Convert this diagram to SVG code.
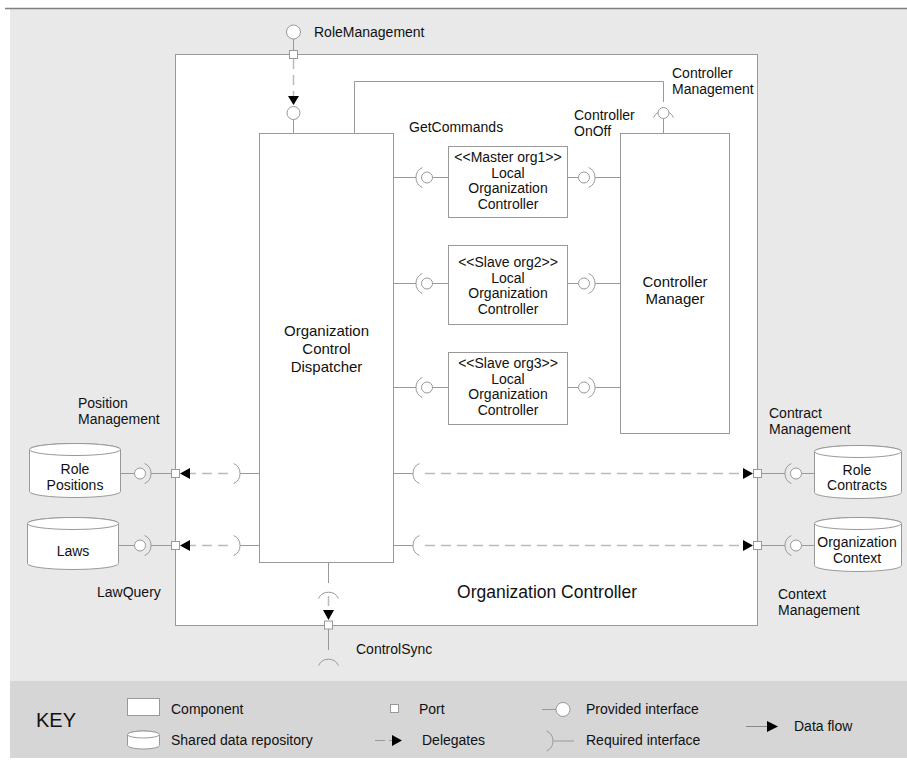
<svg xmlns="http://www.w3.org/2000/svg" width="907" height="760" viewBox="0 0 907 760">
  <style>
    text { font-family: "Liberation Sans", Arial, sans-serif; fill: #111; }
    .lbl { font-size: 14px; }
    .ctr { text-anchor: middle; }
    .loc { font-size: 14px; text-anchor: middle; }
    .box { fill: #fff; stroke: #999; stroke-width: 1; }
    .ln { fill: none; stroke: #999; stroke-width: 1; }
    .ball { fill: #fff; stroke: #999; stroke-width: 1; }
    .dash { fill: none; stroke: #bbb; stroke-width: 1.5; stroke-dasharray: 10 6; }
    .port { fill: #fff; stroke: #999; stroke-width: 1; }
    .arr { fill: #000; stroke: none; }
  </style>
  <defs>
    <!-- sockets (required interface arcs), centred on the matching ball -->
    <path id="sL" class="ln" d="M-4.6,-10 A11,11 0 0 0 -4.6,10"/>
    <path id="sR" class="ln" d="M4.6,-10 A11,11 0 0 1 4.6,10"/>
    <path id="sT" class="ln" d="M-10,4.6 A11,11 0 0 1 10,4.6"/>
    <circle id="b" class="ball" r="5.5"/>
  </defs>

  <!-- backdrop -->
  <rect x="0" y="0" width="907" height="760" fill="#fff"/>
  <rect x="10" y="9" width="897" height="672" fill="#e9e9e9"/>
  <rect x="10" y="681" width="897" height="77" fill="#d6d6d6"/>
  <line x1="5" y1="8.5" x2="907" y2="8.5" stroke="#808080" stroke-width="1.5"/>

  <!-- outer component -->
  <g id="organization-controller">
    <rect class="box" x="175.5" y="54.5" width="582" height="571"/>
    <text x="547" y="598" class="ctr" style="font-size:17.5px">Organization Controller</text>
  </g>

  <g id="dispatcher">
    <rect class="box" x="259.5" y="133.5" width="134" height="429"/>
    <text class="ctr" x="326.5" y="336" style="font-size:15px">Organization</text>
    <text class="ctr" x="326.5" y="354" style="font-size:15px">Control</text>
    <text class="ctr" x="326.5" y="372" style="font-size:15px">Dispatcher</text>
  </g>

  <g id="controller-manager">
    <rect class="box" x="620.5" y="133.5" width="109" height="300"/>
    <text class="ctr" x="675" y="287" style="font-size:15px">Controller</text>
    <text class="ctr" x="675" y="304" style="font-size:15px">Manager</text>
  </g>

  <g id="loc-master-org1">
    <rect class="box" x="448.5" y="146.5" width="119" height="71"/>
    <text class="loc" x="508" y="162">&lt;&lt;Master org1&gt;&gt;</text>
    <text class="loc" x="508" y="177.5">Local</text>
    <text class="loc" x="508" y="193">Organization</text>
    <text class="loc" x="508" y="208.5">Controller</text>
  </g>

  <g id="loc-slave-org2">
    <rect class="box" x="448.5" y="245.5" width="119" height="79"/>
    <text class="loc" x="508" y="267">&lt;&lt;Slave org2&gt;&gt;</text>
    <text class="loc" x="508" y="282.5">Local</text>
    <text class="loc" x="508" y="298">Organization</text>
    <text class="loc" x="508" y="313.5">Controller</text>
  </g>

  <g id="loc-slave-org3">
    <rect class="box" x="448.5" y="352.5" width="119" height="72"/>
    <text class="loc" x="508" y="368">&lt;&lt;Slave org3&gt;&gt;</text>
    <text class="loc" x="508" y="383.5">Local</text>
    <text class="loc" x="508" y="399">Organization</text>
    <text class="loc" x="508" y="414.5">Controller</text>
  </g>

  <!-- shared data repositories -->
  <g id="role-positions">
    <path class="box" d="M29.5,449.5 V491.5 A45.5,6 0 0 0 120.5,491.5 V449.5 A45.5,6 0 0 0 29.5,449.5 Z"/>
    <ellipse class="box" cx="75" cy="449.5" rx="45.5" ry="6"/>
    <text class="ctr" x="75" y="474" style="font-size:14px">Role</text>
    <text class="ctr" x="75" y="490" style="font-size:14px">Positions</text>
  </g>
  <g id="laws">
    <path class="box" d="M27.5,523.5 V563.5 A45.5,6 0 0 0 118.5,563.5 V523.5 A45.5,6 0 0 0 27.5,523.5 Z"/>
    <ellipse class="box" cx="73" cy="523.5" rx="45.5" ry="6"/>
    <text class="ctr" x="73" y="556" style="font-size:14px">Laws</text>
  </g>
  <g id="role-contracts">
    <path class="box" d="M814.5,451.5 V492.5 A43.5,6 0 0 0 901.5,492.5 V451.5 A43.5,6 0 0 0 814.5,451.5 Z"/>
    <ellipse class="box" cx="858" cy="451.5" rx="43.5" ry="6"/>
    <text class="ctr" x="857" y="475" style="font-size:14px">Role</text>
    <text class="ctr" x="857" y="490" style="font-size:14px">Contracts</text>
  </g>
  <g id="organization-context">
    <path class="box" d="M814.5,523.5 V565.5 A43.5,6 0 0 0 901.5,565.5 V523.5 A43.5,6 0 0 0 814.5,523.5 Z"/>
    <ellipse class="box" cx="858" cy="523.5" rx="43.5" ry="6"/>
    <text class="ctr" x="857" y="547" style="font-size:14px">Organization</text>
    <text class="ctr" x="857" y="563" style="font-size:14px">Context</text>
  </g>

  <!-- connectors, interfaces, ports -->
  <g id="connectors">
    <!-- RoleManagement: provided at the top, delegated to the dispatcher -->
    <circle class="ball" cx="293.5" cy="32" r="7"/>
    <line class="ln" x1="293.5" y1="39" x2="293.5" y2="50.5"/>
    <rect class="port" x="289.5" y="50.5" width="8" height="8"/>
    <line class="dash" x1="293.5" y1="59" x2="293.5" y2="96"/>
    <path class="arr" d="M288,96 H299 L293.5,105 Z"/>
    <circle class="ball" cx="293.5" cy="113" r="6.5"/>
    <line class="ln" x1="293.5" y1="119.5" x2="293.5" y2="133.5"/>

    <!-- ControllerManagement -->
    <path class="ln" d="M354.5,133.5 V81.5 H663.5 V102"/>
    <use href="#sT" x="663.5" y="113"/>
    <use href="#b" x="663.5" y="113"/>
    <line class="ln" x1="663.5" y1="118.5" x2="663.5" y2="133.5"/>

    <!-- GetCommands / ControllerOnOff assemblies -->
    <g id="asm-row1">
      <line class="ln" x1="393.5" y1="177.5" x2="416" y2="177.5"/>
      <use href="#sL" x="427" y="177.5"/>
      <use href="#b" x="427" y="177.5"/>
      <line class="ln" x1="432.5" y1="177.5" x2="448.5" y2="177.5"/>
      <line class="ln" x1="567.5" y1="177.5" x2="578.5" y2="177.5"/>
      <use href="#b" x="584" y="177.5"/>
      <use href="#sR" x="584" y="177.5"/>
      <line class="ln" x1="595" y1="177.5" x2="620.5" y2="177.5"/>
    </g>
    <g id="asm-row2">
      <line class="ln" x1="393.5" y1="283.5" x2="416" y2="283.5"/>
      <use href="#sL" x="427" y="283.5"/>
      <use href="#b" x="427" y="283.5"/>
      <line class="ln" x1="432.5" y1="283.5" x2="448.5" y2="283.5"/>
      <line class="ln" x1="567.5" y1="283.5" x2="578.5" y2="283.5"/>
      <use href="#b" x="584" y="283.5"/>
      <use href="#sR" x="584" y="283.5"/>
      <line class="ln" x1="595" y1="283.5" x2="620.5" y2="283.5"/>
    </g>
    <g id="asm-row3">
      <line class="ln" x1="393.5" y1="387.5" x2="416" y2="387.5"/>
      <use href="#sL" x="427" y="387.5"/>
      <use href="#b" x="427" y="387.5"/>
      <line class="ln" x1="432.5" y1="387.5" x2="448.5" y2="387.5"/>
      <line class="ln" x1="567.5" y1="387.5" x2="578.5" y2="387.5"/>
      <use href="#b" x="584" y="387.5"/>
      <use href="#sR" x="584" y="387.5"/>
      <line class="ln" x1="595" y1="387.5" x2="620.5" y2="387.5"/>
    </g>

    <!-- PositionManagement -->
    <line class="ln" x1="240" y1="473.5" x2="259.5" y2="473.5"/>
    <use href="#sR" x="229" y="473.5"/>
    <line class="dash" x1="228" y1="473.5" x2="190" y2="473.5"/>
    <path class="arr" d="M190,468 V479 L180,473.5 Z"/>
    <rect class="port" x="171.5" y="469.5" width="8" height="8"/>
    <line class="ln" x1="151" y1="473.5" x2="171.5" y2="473.5"/>
    <use href="#b" x="140" y="473.5"/>
    <use href="#sR" x="140" y="473.5"/>
    <line class="ln" x1="120.5" y1="473.5" x2="134.5" y2="473.5"/>

    <!-- LawQuery -->
    <line class="ln" x1="240" y1="545.5" x2="259.5" y2="545.5"/>
    <use href="#sR" x="229" y="545.5"/>
    <line class="dash" x1="228" y1="545.5" x2="190" y2="545.5"/>
    <path class="arr" d="M190,540 V551 L180,545.5 Z"/>
    <rect class="port" x="171.5" y="541.5" width="8" height="8"/>
    <line class="ln" x1="151" y1="545.5" x2="171.5" y2="545.5"/>
    <use href="#b" x="140" y="545.5"/>
    <use href="#sR" x="140" y="545.5"/>
    <line class="ln" x1="118.5" y1="545.5" x2="134.5" y2="545.5"/>

    <!-- ContractManagement -->
    <line class="ln" x1="393.5" y1="473.5" x2="413" y2="473.5"/>
    <use href="#sL" x="424" y="473.5"/>
    <line class="dash" x1="425" y1="473.5" x2="743" y2="473.5"/>
    <path class="arr" d="M743,468 V479 L753,473.5 Z"/>
    <rect class="port" x="753.5" y="469.5" width="8" height="8"/>
    <line class="ln" x1="761.5" y1="473.5" x2="785" y2="473.5"/>
    <use href="#sL" x="796" y="473.5"/>
    <use href="#b" x="796" y="473.5"/>
    <line class="ln" x1="801.5" y1="473.5" x2="814.5" y2="473.5"/>

    <!-- ContextManagement -->
    <line class="ln" x1="393.5" y1="545.5" x2="413" y2="545.5"/>
    <use href="#sL" x="424" y="545.5"/>
    <line class="dash" x1="425" y1="545.5" x2="743" y2="545.5"/>
    <path class="arr" d="M743,540 V551 L753,545.5 Z"/>
    <rect class="port" x="753.5" y="541.5" width="8" height="8"/>
    <line class="ln" x1="761.5" y1="545.5" x2="785" y2="545.5"/>
    <use href="#sL" x="796" y="545.5"/>
    <use href="#b" x="796" y="545.5"/>
    <line class="ln" x1="801.5" y1="545.5" x2="814.5" y2="545.5"/>

    <!-- ControlSync -->
    <line class="ln" x1="328.5" y1="562.5" x2="328.5" y2="583"/>
    <use href="#sT" x="328.5" y="594"/>
    <line class="dash" x1="328.5" y1="596" x2="328.5" y2="610"/>
    <path class="arr" d="M323,610 H334 L328.5,620 Z"/>
    <rect class="port" x="324.5" y="621" width="8" height="8"/>
    <line class="ln" x1="328.5" y1="629" x2="328.5" y2="650"/>
    <use href="#sT" x="328.5" y="661"/>
  </g>

  <!-- interface labels -->
  <g id="labels">
    <text class="lbl" x="314" y="37">RoleManagement</text>
    <text class="lbl" x="409" y="132">GetCommands</text>
    <text class="lbl" x="574" y="120">Controller</text>
    <text class="lbl" x="574" y="136">OnOff</text>
    <text class="lbl" x="672" y="78">Controller</text>
    <text class="lbl" x="672" y="94">Management</text>
    <text class="lbl" x="78" y="408">Position</text>
    <text class="lbl" x="78" y="424">Management</text>
    <text class="lbl" x="97" y="597">LawQuery</text>
    <text class="lbl" x="769" y="418">Contract</text>
    <text class="lbl" x="769" y="434">Management</text>
    <text class="lbl" x="778" y="599">Context</text>
    <text class="lbl" x="778" y="615">Management</text>
    <text class="lbl" x="356" y="654">ControlSync</text>
  </g>

  <!-- legend -->
  <g id="key">
    <text x="36" y="727" style="font-size:20px">KEY</text>
    <rect class="box" x="127.5" y="698.5" width="32" height="17"/>
    <text class="lbl" x="171" y="714">Component</text>
    <path class="box" d="M127.5,734.5 V745.5 A16,3.5 0 0 0 159.5,745.5 V734.5 A16,3.5 0 0 0 127.5,734.5 Z"/>
    <ellipse class="box" cx="143.5" cy="734.5" rx="16" ry="3.5"/>
    <text class="lbl" x="171" y="745">Shared data repository</text>
    <rect class="port" x="390.5" y="704.5" width="8" height="8"/>
    <text class="lbl" x="419" y="714">Port</text>
    <line x1="375" y1="740.5" x2="393" y2="740.5" stroke="#999" stroke-width="1" stroke-dasharray="10 4"/>
    <path class="arr" d="M392,735 V746 L402,740.5 Z"/>
    <text class="lbl" x="422" y="745">Delegates</text>
    <line class="ln" x1="542" y1="709.5" x2="556" y2="709.5"/>
    <circle class="ball" cx="563" cy="709.5" r="7"/>
    <text class="lbl" x="586" y="714">Provided interface</text>
    <use href="#sR" x="542" y="741"/>
    <line class="ln" x1="553" y1="741" x2="574" y2="741"/>
    <text class="lbl" x="586" y="745">Required interface</text>
    <line x1="746" y1="726.5" x2="768" y2="726.5" stroke="#888" stroke-width="1"/>
    <path class="arr" d="M767,721 V732 L778,726.5 Z"/>
    <text class="lbl" x="794" y="731">Data flow</text>
  </g>
</svg>
